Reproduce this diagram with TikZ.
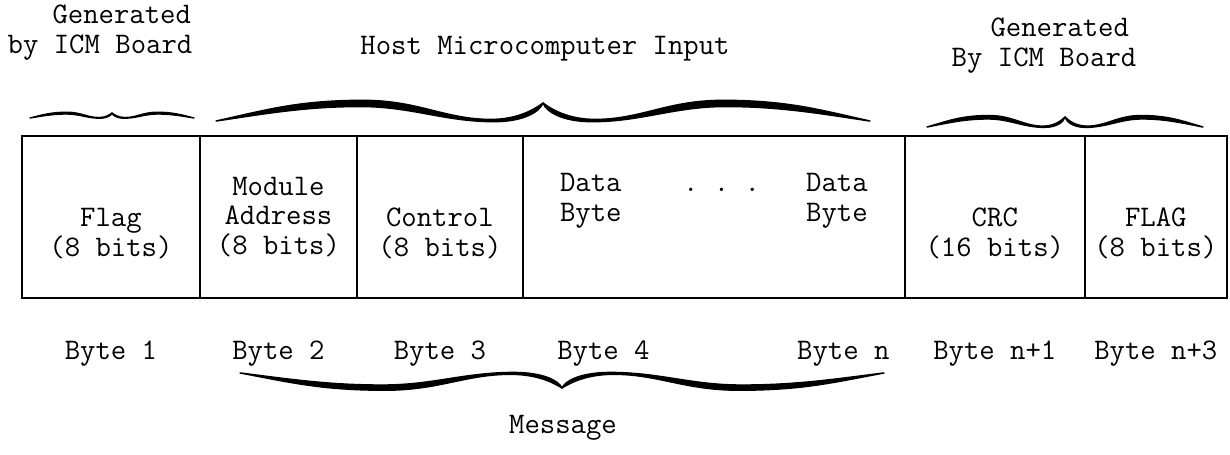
\documentclass[tikz,border=0pt]{standalone}
\usepackage{tikz}
\usetikzlibrary{positioning}
% one half of a hand drawn brace: end at (-1,0), tip at (0,1)
\newcommand{\curlyhalf}{(-1,0) .. controls (-0.85,0.6) and (-0.75,1.15) .. (-0.55,1.15)
  .. controls (-0.38,1.15) and (-0.3,0.09) .. (-0.16,0.09)
  .. controls (-0.08,0.09) and (-0.03,0.6) .. (0,1)
  .. controls (-0.01,0.5) and (-0.06,-0.04) .. (-0.15,-0.04)
  .. controls (-0.3,-0.04) and (-0.4,0.78) .. (-0.55,0.8)
  .. controls (-0.72,0.82) and (-0.85,0.4) .. cycle}
% #1,#2 tip x and end y, #3 half width, #4 height (negative: tip up)
\newcommand{\curly}[4]{%
  \begin{scope}[shift={(#1,#2)}, xscale=#3, yscale=#4]
    \filldraw[brush] \curlyhalf;
    \filldraw[brush, xscale=-1] \curlyhalf;
  \end{scope}}

\begin{document}
\begin{tikzpicture}[
    x=0.02cm, y=-0.02cm,
    font=\ttfamily\fontsize{17}{17}\selectfont,
    field/.style={draw, line width=1.1pt, minimum height=3.23cm, inner sep=0pt,
                  outer sep=0pt, align=center},
    lbl/.style={inner sep=0pt, align=center},
    brush/.style={line width=0.8pt, line join=round},
]
\useasboundingbox (0,0) rectangle (1230,455);

% frame fields
\node[field, minimum width=3.56cm, anchor=west] (flag) at (22,217) {\strut\\Flag\\(8 bits)};
\node[field, minimum width=3.14cm, right=0pt of flag] (addr) {Module\\Address\\(8 bits)};
\node[field, minimum width=3.32cm, right=0pt of addr] (ctrl) {\strut\\Control\\(8 bits)};
\node[field, minimum width=7.64cm, right=0pt of ctrl] (data) {Data~~~~.~.~.~~~Data\\Byte~~~~~~~~~~~~Byte\\\strut};
\node[field, minimum width=3.6cm, right=0pt of data] (crc) {\strut\\CRC\\(16 bits)};
\node[field, minimum width=2.84cm, right=0pt of crc] (endflag) {\strut\\FLAG\\(8 bits)};

% byte numbers
\node[lbl, below=0.86cm of flag] (b1) {Byte 1};
\node[lbl, below=0.86cm of addr] (b2) {Byte 2};
\node[lbl, below=0.86cm of ctrl] (b3) {Byte 3};
\node[lbl, below right=0.86cm and 0.68cm of data.south west] (b4) {Byte 4};
\node[lbl, below left=0.86cm and 0.3cm of data.south east] (bn) {Byte n};
\node[lbl, below=0.86cm of crc] (bn1) {Byte n+1};
\node[lbl, below=0.86cm of endflag] (bn3) {Byte n+3};

% braces
\curly{112}{118}{82}{-5}
\curly{543}{121}{327}{-18}
\curly{1065}{127}{138}{-10}
\curly{562}{373}{322}{15}

\node[lbl, align=left] (gen1) at (100,33) {\hspace*{1.5em}Generated\\by ICM Board};
\node[lbl] (host) at (545,49) {Host Microcomputer Input};
\node[lbl, align=left] (gen2) at (1044,46) {\hspace*{1.3em}Generated\\By ICM Board};
\node[lbl] (msg) at (563,428) {Message};

\end{tikzpicture}
\end{document}
